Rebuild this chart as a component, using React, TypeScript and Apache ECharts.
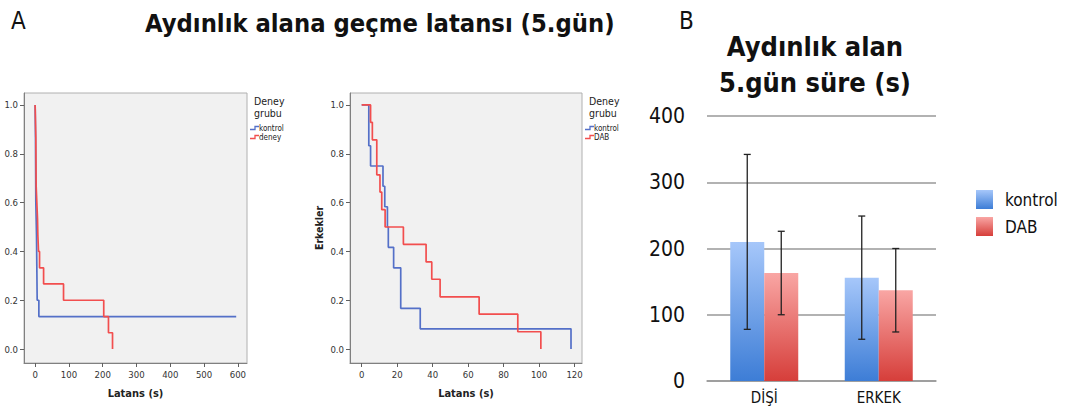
import React, { useEffect, useRef } from "react";
import * as echarts from "echarts";

// Kaplan-Meier step points [latans (s), survival]
const kmDisiKontrol = [[0, 1], [1, 0.867], [2, 0.6], [3, 0.533], [4, 0.467], [5, 0.333], [6, 0.2], [11, 0.133], [595, 0.133]];
const kmDisiDeney = [[0, 1], [2, 0.867], [3, 0.667], [5, 0.6], [7, 0.533], [8, 0.467], [10, 0.4], [13, 0.333], [25, 0.267], [84, 0.2], [203, 0.133], [217, 0.067], [229, 0]];
const kmErkekKontrol = [[0, 1], [4, 0.833], [5, 0.75], [12, 0.667], [13, 0.583], [14.5, 0.5], [15, 0.417], [18, 0.333], [22, 0.167], [33, 0.083], [118, 0]];
const kmErkekDab = [[0, 1], [5, 0.929], [6, 0.857], [8.5, 0.714], [10.3, 0.643], [11.3, 0.571], [13.2, 0.5], [23.5, 0.429], [36.3, 0.357], [39.5, 0.286], [44.2, 0.214], [66.2, 0.143], [88, 0.071], [101, 0]];

const kmTicksY = [0, 0.2, 0.4, 0.6, 0.8, 1.0];
const kmTicksX1 = [0, 100, 200, 300, 400, 500, 600];
const kmTicksX2 = [0, 20, 40, 60, 80, 100, 120];

// Bar chart
const barCategories = ["DİŞİ", "ERKEK"];
const kontrolMean = [210, 156];
const kontrolSD = [132, 93];
const dabMean = [163, 137];
const dabSD = [63, 63];

const BLUE = "#5470c8";
const RED = "#f24e4e";
const FONT = "DejaVu Sans Condensed, DejaVu Sans, sans-serif";
const BAR_W = 34;

function kmAxisX(gridIndex: number, min: number, max: number, ticks: number[]) {
  return {
    gridIndex,
    type: "value",
    min,
    max,
    axisLine: { show: true, onZero: false, lineStyle: { color: "#808080", width: 1 } },
    axisTick: { show: true, customValues: ticks, length: 4, lineStyle: { color: "#606060" } },
    axisLabel: { customValues: ticks, fontSize: 9.5, color: "#333", margin: 6, fontFamily: FONT },
    splitLine: { show: false },
    name: "Latans (s)",
    nameLocation: "middle",
    nameGap: 25,
    nameTextStyle: { fontWeight: "bold", fontSize: 11, color: "#222", fontFamily: FONT },
  };
}

function kmAxisY(gridIndex: number, name: string) {
  return {
    gridIndex,
    type: "value",
    min: -0.057,
    max: 1.049,
    axisLine: { show: true, onZero: false, lineStyle: { color: "#808080", width: 1 } },
    axisTick: { show: true, customValues: kmTicksY, length: 4, lineStyle: { color: "#606060" } },
    axisLabel: {
      customValues: kmTicksY,
      fontSize: 9.5,
      color: "#333",
      margin: 6,
      fontFamily: FONT,
      formatter: (v: number) => v.toFixed(1),
    },
    splitLine: { show: false },
    name,
    nameLocation: "middle",
    nameGap: 26,
    nameRotate: 90,
    nameTextStyle: { fontWeight: "bold", fontSize: 10.5, color: "#222", fontFamily: FONT },
  };
}

function kmLine(name: string, data: number[][], color: string, idx: number) {
  return {
    name,
    type: "line",
    xAxisIndex: idx,
    yAxisIndex: idx,
    data,
    step: "end",
    showSymbol: false,
    symbol: "none",
    lineStyle: { color, width: 1.7 },
    itemStyle: { color },
    silent: true,
  };
}

function errSeries(name: string, mean: number[], sd: number[], side: number) {
  return {
    name,
    type: "custom",
    xAxisIndex: 2,
    yAxisIndex: 2,
    data: barCategories.map((_, i) => [i, mean[i], sd[i]]),
    encode: { x: 0, y: 1 },
    z: 10,
    silent: true,
    renderItem: (params: any, api: any) => {
      const i = api.value(0);
      const m = api.value(1);
      const s = api.value(2);
      const top = api.coord([i, m + s]);
      const bot = api.coord([i, m - s]);
      const x = top[0] + (side * BAR_W) / 2;
      const cap = 3.5;
      const style = { stroke: "#222", lineWidth: 1.3 };
      return {
        type: "group",
        children: [
          { type: "line", shape: { x1: x, y1: top[1], x2: x, y2: bot[1] }, style },
          { type: "line", shape: { x1: x - cap, y1: top[1], x2: x + cap, y2: top[1] }, style },
          { type: "line", shape: { x1: x - cap, y1: bot[1], x2: x + cap, y2: bot[1] }, style },
        ],
      };
    },
  };
}

function legendKM(x: number, labels: string[]) {
  const items: any[] = [
    { type: "text", left: x + 4, top: 95, style: { text: "Deney", fontSize: 10.5, fill: "#222", fontFamily: FONT } },
    { type: "text", left: x + 4, top: 107, style: { text: "grubu", fontSize: 10.5, fill: "#222", fontFamily: FONT } },
  ];
  const colors = [BLUE, RED];
  labels.forEach((lab, k) => {
    const y = 128 + k * 9;
    items.push({
      type: "polyline",
      shape: { points: [[x, y + 1.5], [x + 5, y + 1.5], [x + 5, y - 1.5], [x + 9, y - 1.5]] },
      style: { stroke: colors[k], lineWidth: 1.3, fill: null },
    });
    items.push({
      type: "text",
      x: x + 9,
      y,
      style: { text: lab, fontSize: 8, fill: "#222", fontFamily: FONT, verticalAlign: "middle" },
    });
  });
  return items;
}

export default function App() {
  const ref = useRef<HTMLDivElement>(null);
  useEffect(() => {
    if (!ref.current) return;
    const chart = echarts.init(ref.current, null, { renderer: "svg" });
    const blueGrad = new echarts.graphic.LinearGradient(0, 0, 0, 1, [
      { offset: 0, color: "#a6c7fa" },
      { offset: 1, color: "#3d7dd6" },
    ]);
    const redGrad = new echarts.graphic.LinearGradient(0, 0, 0, 1, [
      { offset: 0, color: "#f9a6a4" },
      { offset: 1, color: "#d63e3a" },
    ]);
    const option: any = {
      animation: false,
      backgroundColor: "#ffffff",
      textStyle: { fontFamily: FONT },
      grid: [
        { left: 24, top: 93, width: 223, height: 270, show: true, backgroundColor: "#f1f1f1", borderColor: "#b0b0b0", borderWidth: 1 },
        { left: 350, top: 93, width: 232, height: 270, show: true, backgroundColor: "#f1f1f1", borderColor: "#b0b0b0", borderWidth: 1 },
        { left: 707, top: 116, width: 229, height: 265 },
      ],
      xAxis: [
        kmAxisX(0, -33, 627, kmTicksX1),
        kmAxisX(1, -6.6, 124.2, kmTicksX2),
        {
          gridIndex: 2,
          type: "category",
          data: barCategories,
          axisLine: { show: true, lineStyle: { color: "#999", width: 1.5 } },
          axisTick: { show: false },
          axisLabel: { fontSize: 15, color: "#111", margin: 9, fontFamily: FONT },
        },
      ],
      yAxis: [
        kmAxisY(0, ""),
        kmAxisY(1, "Erkekler"),
        {
          gridIndex: 2,
          type: "value",
          min: 0,
          max: 400,
          interval: 100,
          axisLine: { show: false },
          axisTick: { show: false },
          axisLabel: { fontSize: 21, color: "#111", margin: 22, fontFamily: FONT },
          splitLine: { show: true, lineStyle: { color: "#999", width: 1.5 } },
        },
      ],
      legend: {
        data: ["kontrol", "DAB"],
        left: 976,
        top: 190,
        orient: "vertical",
        icon: "rect",
        itemWidth: 17,
        itemHeight: 19,
        itemGap: 8,
        padding: 0,
        selectedMode: false,
        textStyle: { fontSize: 17, color: "#111", fontFamily: FONT, padding: [0, 0, 0, 7] },
      },
      series: [
        kmLine("km-d-kontrol", kmDisiKontrol, BLUE, 0),
        kmLine("km-d-deney", kmDisiDeney, RED, 0),
        kmLine("km-e-kontrol", kmErkekKontrol, BLUE, 1),
        kmLine("km-e-dab", kmErkekDab, RED, 1),
        {
          name: "kontrol",
          type: "bar",
          xAxisIndex: 2,
          yAxisIndex: 2,
          data: kontrolMean,
          barWidth: BAR_W,
          barGap: "0%",
          itemStyle: { color: blueGrad },
        },
        {
          name: "DAB",
          type: "bar",
          xAxisIndex: 2,
          yAxisIndex: 2,
          data: dabMean,
          barWidth: BAR_W,
          barGap: "0%",
          itemStyle: { color: redGrad },
        },
        errSeries("err-kontrol", kontrolMean, kontrolSD, -1),
        errSeries("err-dab", dabMean, dabSD, 1),
      ],
      graphic: [
        { type: "text", left: 11, top: 9, style: { text: "A", fontSize: 24, fill: "#111", fontFamily: FONT } },
        { type: "text", left: 679, top: 9, style: { text: "B", fontSize: 24, fill: "#111", fontFamily: FONT } },
        {
          type: "text",
          x: 145,
          y: 23,
          style: { text: "Aydınlık alana geçme latansı (5.gün)", fontSize: 25.3, fontWeight: "bold", fill: "#111", fontFamily: FONT, verticalAlign: "middle" },
        },
        {
          type: "text",
          x: 815,
          y: 46,
          style: { text: "Aydınlık alan", fontSize: 27, fontWeight: "bold", fill: "#111", fontFamily: FONT, align: "center", verticalAlign: "middle" },
        },
        {
          type: "text",
          x: 815,
          y: 82,
          style: { text: "5.gün süre (s)", fontSize: 27, fontWeight: "bold", fill: "#111", fontFamily: FONT, align: "center", verticalAlign: "middle" },
        },
        ...legendKM(250, ["kontrol", "deney"]),
        ...legendKM(585, ["kontrol", "DAB"]),
      ],
    };
    chart.setOption(option);
    return () => chart.dispose();
  }, []);
  return <div ref={ref} style={{ position: "fixed", left: 0, top: 0, width: 1076, height: 408 }} />;
}
